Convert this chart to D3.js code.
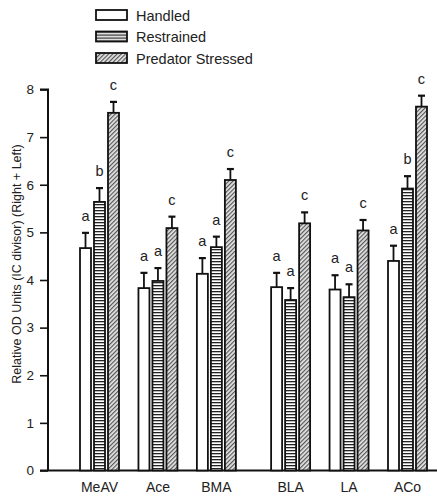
<!DOCTYPE html>
<html>
<head>
<meta charset="utf-8">
<script src="https://cdn.jsdelivr.net/npm/d3@7/dist/d3.min.js"></script>
<style>
  html, body { margin: 0; padding: 0; background: #fff; }
  svg { display: block; font-family: "Liberation Sans", Arial, Helvetica, sans-serif; }
</style>
</head>
<body>
<svg id="chart" width="437" height="497"></svg>
<script>
// Amygdala regions
const categories = ["MeAV", "Ace", "BMA", "BLA", "LA", "ACo"];
const seriesNames = ["Handled", "Restrained", "Predator Stressed"];

// Mean relative OD units and SEM for each condition
const handled       = [4.67, 3.83, 4.13, 3.85, 3.80, 4.40];
const handledErr    = [0.32, 0.32, 0.33, 0.30, 0.30, 0.32];
const restrained    = [5.64, 3.98, 4.69, 3.58, 3.64, 5.92];
const restrainedErr = [0.29, 0.27, 0.22, 0.25, 0.27, 0.26];
const predator      = [7.51, 5.09, 6.10, 5.19, 5.04, 7.64];
const predatorErr   = [0.23, 0.24, 0.23, 0.23, 0.22, 0.23];

// Significance letters per region (Handled, Restrained, Predator Stressed)
const letters = [
  ["a", "b", "c"],
  ["a", "a", "c"],
  ["a", "a", "c"],
  ["a", "a", "c"],
  ["a", "a", "c"],
  ["a", "b", "c"]
];

const yTicks = [0, 1, 2, 3, 4, 5, 6, 7, 8];
const yTitle = "Relative OD Units (IC divisor) (Right + Left)";

const seriesValues = [handled, restrained, predator];
const seriesErrors = [handledErr, restrainedErr, predatorErr];

const svg = d3.select("#chart");
const defs = svg.append("defs");

// Horizontal stripes for Restrained
const pH = defs.append("pattern").attr("id", "hstripe")
  .attr("patternUnits", "userSpaceOnUse").attr("width", 6).attr("height", 3);
pH.append("rect").attr("width", 6).attr("height", 3).attr("fill", "#fff");
pH.append("rect").attr("y", 0).attr("width", 6).attr("height", 1.3).attr("fill", "#222");

// Diagonal hatching for Predator Stressed
const pD = defs.append("pattern").attr("id", "dstripe")
  .attr("patternUnits", "userSpaceOnUse").attr("width", 3).attr("height", 3)
  .attr("patternTransform", "rotate(45)");
pD.append("rect").attr("width", 3).attr("height", 3).attr("fill", "#e6e6e6");
pD.append("rect").attr("x", 0).attr("width", 1.2).attr("height", 3).attr("fill", "#555");

const fills = ["#fff", "url(#hstripe)", "url(#dstripe)"];

// Scales
const y = d3.scaleLinear().domain([0, 8]).range([470.5, 89.5]);
// group slots: the last three regions sit a little further apart
const slot = i => i + (i >= 3 ? 0.27 : 0);
const xGroup = d3.scaleLinear().domain([0, slot(5)]).range([80, 388]);
const xInner = d3.scaleBand().domain(seriesNames).range([0, 39])
  .paddingInner(0.214).paddingOuter(0);

// Y axis
const yAxis = d3.axisLeft(y).tickValues(yTicks).tickSize(8).tickPadding(6)
  .tickFormat(d3.format("d"));
const gy = svg.append("g").attr("transform", "translate(48,0)").call(yAxis);
gy.select(".domain").attr("stroke", "#111").attr("stroke-width", 2)
  .attr("d", `M-8,${y(8)}H0V${y(0)}`);
gy.selectAll(".tick line").attr("stroke", "#111").attr("stroke-width", 1.6);
gy.selectAll(".tick text").attr("font-size", 13.5).attr("fill", "#222")
  .attr("font-family", "'Liberation Sans', Arial, sans-serif");

// Baseline
svg.append("line").attr("x1", 40).attr("x2", 437)
  .attr("y1", y(0)).attr("y2", y(0))
  .attr("stroke", "#111").attr("stroke-width", 2);

// Y title
svg.append("text")
  .attr("transform", `translate(21,264) rotate(-90)`)
  .attr("text-anchor", "middle").attr("font-size", 12.5).attr("fill", "#222")
  .text(yTitle);

// Bars
const groups = svg.selectAll("g.region").data(categories).join("g")
  .attr("class", "region")
  .attr("transform", (d, i) => `translate(${xGroup(slot(i))},0)`);

seriesNames.forEach((s, si) => {
  groups.each(function(cat, ci) {
    const g = d3.select(this);
    const v = seriesValues[si][ci];
    const e = seriesErrors[si][ci];
    const x0 = xInner(s);
    const bw = xInner.bandwidth();
    const cx = x0 + bw / 2;
    // error bar (upper only)
    g.append("line").attr("x1", cx).attr("x2", cx)
      .attr("y1", y(v)).attr("y2", y(v + e))
      .attr("stroke", "#111").attr("stroke-width", 1.8);
    g.append("line").attr("x1", cx - 3.5).attr("x2", cx + 3.5)
      .attr("y1", y(v + e)).attr("y2", y(v + e))
      .attr("stroke", "#111").attr("stroke-width", 2.2);
    g.append("rect")
      .attr("x", x0).attr("y", y(v))
      .attr("width", bw).attr("height", y(0) - y(v))
      .attr("fill", fills[si]).attr("stroke", "#111").attr("stroke-width", 1.8);
    g.append("text").attr("x", cx).attr("y", y(v + e) - 12)
      .attr("text-anchor", "middle").attr("font-size", 14.5).attr("fill", "#222")
      .text(letters[ci][si]);
  });
});

// Category labels
groups.append("text")
  .attr("x", 19.5).attr("y", 492)
  .attr("text-anchor", "middle").attr("font-size", 14).attr("fill", "#222")
  .text(d => d);

// Legend
const legend = svg.append("g").attr("transform", "translate(96,10)");
seriesNames.forEach((s, i) => {
  const row = legend.append("g").attr("transform", `translate(0,${i * 21.5})`);
  row.append("rect").attr("x", 0).attr("y", 0).attr("width", 31).attr("height", 10)
    .attr("fill", fills[i]).attr("stroke", "#111").attr("stroke-width", 1.8);
  row.append("text").attr("x", 40).attr("y", 10.5)
    .attr("font-size", 14.5).attr("fill", "#222").text(s);
});
</script>
</body>
</html>
